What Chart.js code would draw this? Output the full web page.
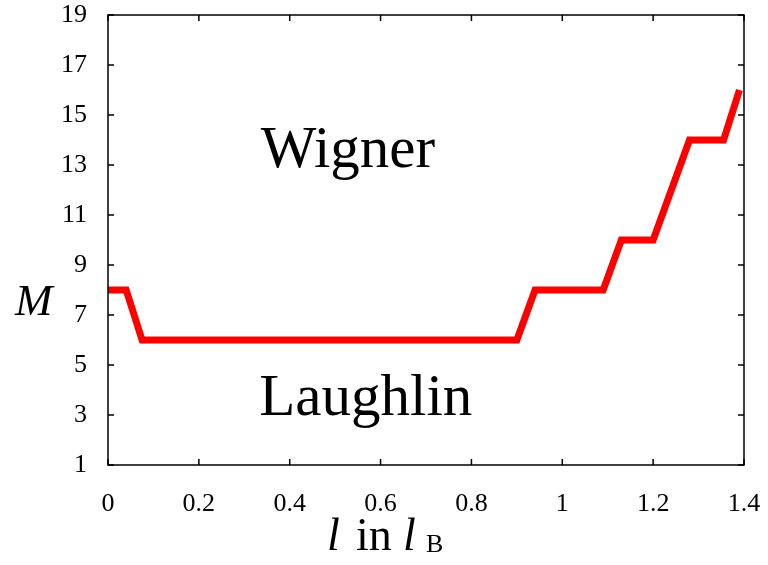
<!DOCTYPE html>
<html>
<head>
<meta charset="utf-8">
<script src="https://cdn.jsdelivr.net/npm/chart.js@4/dist/chart.umd.min.js"></script>
<style>
  html, body { margin: 0; padding: 0; background: #fff; }
  canvas { display: block; }
</style>
</head>
<body>
<canvas id="phaseChart" width="768" height="565"></canvas>
<script>
// boundary between Laughlin and Wigner phases
const lengthValues = [0, 0.04, 0.075, 0.9, 0.94, 1.09, 1.13, 1.2, 1.28, 1.355, 1.39];
const mValues = [8, 8, 6, 6, 8, 8, 10, 10, 14, 14, 16];

const xTicks = [0, 0.2, 0.4, 0.6, 0.8, 1, 1.2, 1.4];
const yTicks = [1, 3, 5, 7, 9, 11, 13, 15, 17, 19];

// region labels, placed in data coordinates (left edge, baseline)
const regionLabels = [
    { text: "Wigner", x: 0.336, y: 12.92 },
    { text: "Laughlin", x: 0.333, y: 3.0 }
];

const serif = "'Liberation Serif', serif";

Chart.defaults.font.family = serif;
Chart.defaults.font.size = 26;
Chart.defaults.color = "#000";

const framePlugin = {
    id: "frame",
    afterDraw(chart) {
        const ctx = chart.ctx;
        const area = chart.chartArea;
        const xs = chart.scales.x;
        const ys = chart.scales.y;
        const tick = 6;

        ctx.save();
        ctx.strokeStyle = "#000";
        ctx.lineWidth = 1.5;
        ctx.strokeRect(area.left, area.top, area.right - area.left, area.bottom - area.top);

        ctx.beginPath();
        xTicks.forEach(v => {
            const px = xs.getPixelForValue(v);
            ctx.moveTo(px, area.bottom);
            ctx.lineTo(px, area.bottom - tick);
            ctx.moveTo(px, area.top);
            ctx.lineTo(px, area.top + tick);
        });
        yTicks.forEach(v => {
            const py = ys.getPixelForValue(v);
            ctx.moveTo(area.left, py);
            ctx.lineTo(area.left + tick, py);
            ctx.moveTo(area.right, py);
            ctx.lineTo(area.right - tick, py);
        });
        ctx.stroke();

        ctx.fillStyle = "#000";
        ctx.textBaseline = "alphabetic";
        ctx.textAlign = "left";

        ctx.font = "59px " + serif;
        regionLabels.forEach(l => {
            ctx.fillText(l.text, xs.getPixelForValue(l.x), ys.getPixelForValue(l.y));
        });

        // y axis title
        ctx.font = "italic 45px " + serif;
        ctx.fillText("M", 15, 315);

        // x axis title: l in l_B
        const base = 550;
        ctx.font = "italic 46px " + serif;
        ctx.fillText("l", 327, base);
        ctx.font = "46px " + serif;
        ctx.fillText("in", 356, base);
        ctx.font = "italic 46px " + serif;
        ctx.fillText("l", 403, base);
        ctx.font = "26px " + serif;
        ctx.fillText("B", 426, base + 2);
        ctx.restore();
    }
};

new Chart(document.getElementById("phaseChart"), {
    type: "line",
    data: {
        datasets: [{
            data: lengthValues.map((x, i) => ({ x, y: mValues[i] })),
            borderColor: "#ff0000",
            borderWidth: 7,
            pointRadius: 0,
            fill: false,
            tension: 0,
            borderJoinStyle: "miter"
        }]
    },
    options: {
        responsive: false,
        animation: false,
        layout: { padding: { top: 15, right: 24, left: 0, bottom: 0 } },
        plugins: { legend: { display: false }, tooltip: { enabled: false } },
        scales: {
            x: {
                type: "linear",
                min: 0,
                max: 1.4,
                afterBuildTicks: s => { s.ticks = xTicks.map(v => ({ value: v })); },
                afterFit: s => {
                    s.height = 100;
                    s.paddingLeft = 0;
                    s.paddingRight = 0;
                },
                grid: { display: false, drawTicks: false },
                border: { display: false },
                ticks: {
                    padding: 24,
                    font: { size: 26 },
                    callback: v => String(v)
                }
            },
            y: {
                type: "linear",
                min: 1,
                max: 19,
                afterBuildTicks: s => { s.ticks = yTicks.map(v => ({ value: v })); },
                afterFit: s => {
                    s.width = 108;
                    s.paddingTop = 0;
                    s.paddingBottom = 0;
                },
                grid: { display: false, drawTicks: false },
                border: { display: false },
                ticks: {
                    padding: 21,
                    font: { size: 26 },
                    callback: v => String(v)
                }
            }
        }
    },
    plugins: [framePlugin]
});
</script>
</body>
</html>
